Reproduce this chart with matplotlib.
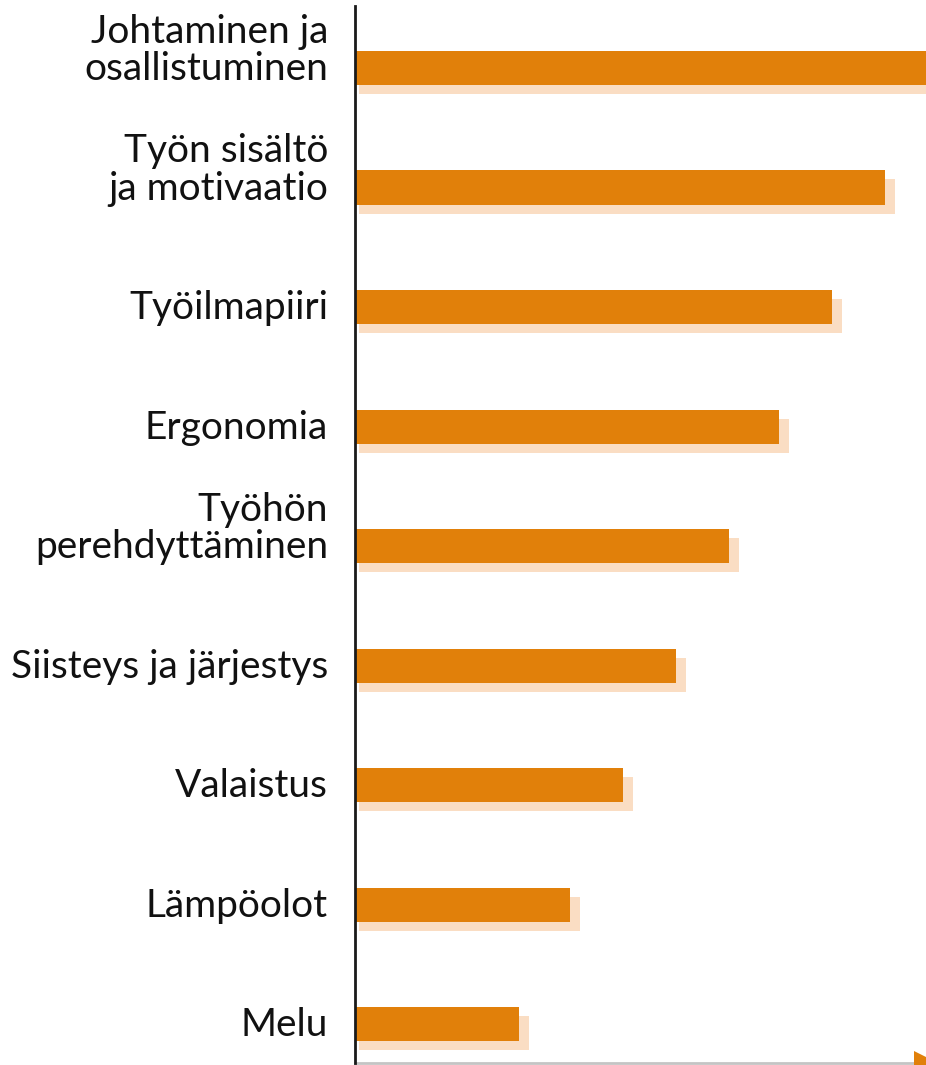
import matplotlib.pyplot as plt
from matplotlib.transforms import blended_transform_factory, ScaledTranslation

plt.rcParams['font.family'] = ['Lato', 'DejaVu Sans']

labels = [
    "Johtaminen ja\nosallistuminen",
    "Työn sisältö\nja motivaatio",
    "Työilmapiiri",
    "Ergonomia",
    "Työhön\nperehdyttäminen",
    "Siisteys ja järjestys",
    "Valaistus",
    "Lämpöolot",
    "Melu",
]
values = [11.0, 10.0, 9.0, 8.0, 7.05, 6.05, 5.05, 4.05, 3.1]

bar_color = "#E1800A"
shadow_color = "#FADDC3"

W, H, DPI = 926, 1065, 100
PX = 53  # pixels per value unit
fig = plt.figure(figsize=(W / DPI, H / DPI), dpi=DPI)
ax = fig.add_axes([355 / W, 2 / H, (W - 355) / W, (1063 - 6) / H])

ypos = list(range(len(labels)))
bar_h = 0.285

# offset "shadow" bars behind the main bars: shifted 10px right / 9px down,
# stretched 6px to the left so they start just past the axis line
shadow = ScaledTranslation(10 / DPI, -9 / DPI, fig.dpi_scale_trans)
stretch = 6 / PX
ax.barh(ypos, [v + stretch for v in values], height=bar_h, left=-stretch,
        color=shadow_color, transform=ax.transData + shadow, zorder=1)
ax.barh(ypos, values, height=bar_h, color=bar_color, zorder=2)

ax.set_xlim(0, (W - 355) / PX)
ax.set_ylim(8.326, -0.519)

ax.set_xticks([])
ax.set_yticks([])
for side in ("top", "right"):
    ax.spines[side].set_visible(False)
ax.spines["left"].set_color("#1a1a1a")
ax.spines["left"].set_linewidth(2)
ax.spines["left"].set_zorder(3)
ax.spines["bottom"].set_color("#c4c4c4")
ax.spines["bottom"].set_linewidth(2)

# category labels, last line sitting on the bar's lower edge
trans = blended_transform_factory(ax.transAxes, ax.transData)
for y, lab in zip(ypos, labels):
    ax.text(-27 / (W - 355), y + bar_h / 2 + 0.02, lab, transform=trans,
            ha="right", va="bottom", fontsize=28, color="#111111",
            linespacing=1.05)

# arrow tip at the end of the horizontal axis
ax.plot([1.0], [0.0], marker=">", markersize=17, color=bar_color,
        markeredgewidth=0, transform=ax.transAxes, clip_on=False, zorder=4)

fig.savefig("out.png", dpi=DPI)
